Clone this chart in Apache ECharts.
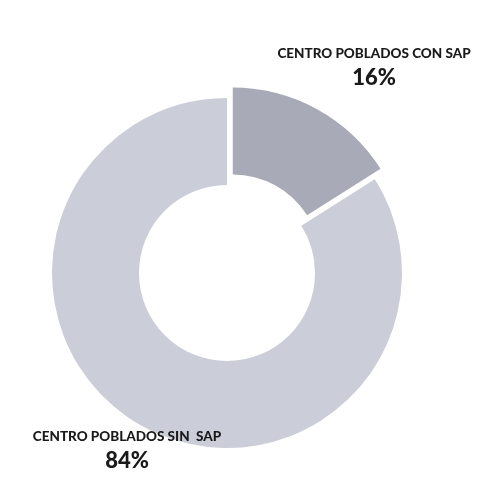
<!DOCTYPE html>
<html>
<head>
<meta charset="utf-8">
<script src="https://cdn.jsdelivr.net/npm/echarts@6/dist/echarts.min.js"></script>
<style>
  html, body { margin: 0; padding: 0; background: #ffffff; }
  #donutChart { width: 477px; height: 481px; }
</style>
</head>
<body>
<div id="donutChart"></div>
<script>
// datos del gráfico
const categories = ['CENTRO POBLADOS CON SAP', 'CENTRO POBLADOS SIN  SAP']
const values = [16, 84]
const sliceColors = ['#a8aab7', '#cbcdd9']
// posición de cada etiqueta (borde superior, centrada en x)
const labelSpots = [[374, 44], [127, 427]]

const pieCenter = [227, 273]
const pieRadius = [88, 175]

var myChart = echarts.init(document.getElementById('donutChart'))

var option = {
  backgroundColor: '#ffffff',
  animation: false,
  series: [
    // sectores (el 16% separado)
    {
      type: 'pie',
      center: pieCenter,
      radius: pieRadius,
      startAngle: 90,
      clockwise: true,
      selectedMode: 'single',
      selectedOffset: 12,
      silent: true,
      label: { show: false },
      labelLine: { show: false },
      data: categories.map(function (name, i) {
        return {
          name: name,
          value: values[i],
          selected: i === 0,
          itemStyle: { color: sliceColors[i] }
        }
      })
    },
    // solo etiquetas (sectores transparentes)
    {
      type: 'pie',
      center: pieCenter,
      radius: pieRadius,
      startAngle: 90,
      clockwise: true,
      silent: true,
      itemStyle: { color: 'rgba(0,0,0,0)' },
      label: {
        show: true,
        position: 'outside',
        overflow: 'none',
        width: 240,
        formatter: '{n|{b}}\n{p|{d}%}',
        align: 'center',
        rich: {
          n: {
            fontFamily: 'Lato',
            fontWeight: 900,
            fontSize: 13.5,
            color: '#1a1a1a',
            align: 'center',
            lineHeight: 20
          },
          p: {
            fontFamily: 'Lato',
            fontWeight: 900,
            fontSize: 22,
            color: '#1a1a1a',
            align: 'center',
            lineHeight: 28
          }
        }
      },
      labelLine: { show: false },
      labelLayout: function (params) {
        var spot = labelSpots[params.dataIndex]
        return {
          x: spot[0],
          y: spot[1],
          align: 'center',
          verticalAlign: 'top'
        }
      },
      data: categories.map(function (name, i) {
        return {
          name: name,
          value: values[i]
        }
      })
    }
  ]
}

myChart.setOption(option)
</script>
</body>
</html>
